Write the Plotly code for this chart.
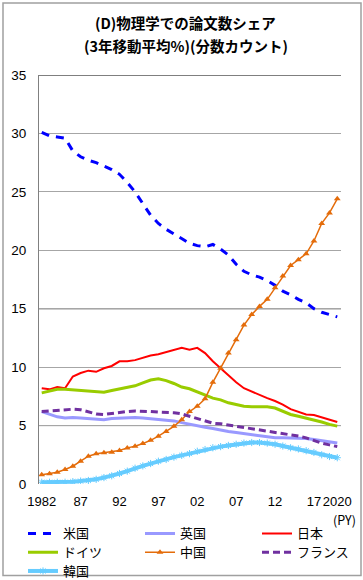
import plotly.graph_objects as go

years = list(range(1982, 2021))

us = [30.1, 29.8, 29.7, 29.6, 28.5, 28.0, 27.7, 27.5, 27.2, 26.9, 26.5, 25.8, 25.0, 24.0, 23.0,
      22.3, 21.8, 21.4, 21.0, 20.6, 20.4, 20.3, 20.5, 20.1, 19.6, 18.8, 18.2, 17.9, 17.7, 17.4,
      17.0, 16.5, 16.2, 15.8, 15.5, 15.0, 14.7, 14.5, 14.3]
uk = [6.2, 6.0, 5.75, 5.65, 5.7, 5.65, 5.6, 5.5, 5.5, 5.6, 5.65, 5.7, 5.7, 5.65, 5.6, 5.5, 5.45,
      5.4, 5.25, 5.1, 4.95, 4.85, 4.75, 4.6, 4.5, 4.4, 4.3, 4.25, 4.15, 4.05, 3.95, 3.95, 3.95,
      3.95, 3.9, 3.8, 3.7, 3.6, 3.5]
japan = [8.2, 8.1, 8.3, 8.2, 9.2, 9.5, 9.7, 9.6, 9.9, 10.1, 10.5, 10.5, 10.6, 10.8, 11.0, 11.1,
         11.3, 11.5, 11.65, 11.5, 11.65, 11.2, 10.5, 9.9, 9.3, 8.7, 8.2, 7.9, 7.6, 7.35, 7.1, 6.8,
         6.4, 6.15, 5.95, 5.9, 5.7, 5.5, 5.3]
germany = [7.8, 7.95, 8.1, 8.1, 8.05, 8.0, 7.95, 7.9, 7.85, 8.0, 8.15, 8.25, 8.4, 8.65, 8.9, 9.0,
           8.85, 8.6, 8.3, 8.15, 7.9, 7.6, 7.35, 7.2, 6.95, 6.8, 6.65, 6.6, 6.6, 6.6, 6.5, 6.2,
           5.95, 5.8, 5.65, 5.45, 5.3, 5.1, 4.95]
china = [0.8, 0.87, 1.0, 1.24, 1.52, 1.95, 2.38, 2.58, 2.67, 2.72, 2.86, 3.09, 3.23, 3.46, 3.74,
         4.09, 4.5, 4.94, 5.5, 6.2, 6.65, 7.3, 8.7, 9.9, 11.2, 12.35, 13.6, 14.5, 15.2, 15.8, 16.8,
         17.8, 18.7, 19.2, 19.7, 20.8, 22.3, 23.2, 24.4]
france = [6.2, 6.25, 6.3, 6.4, 6.4, 6.35, 6.2, 6.0, 5.95, 6.05, 6.1, 6.2, 6.25, 6.25, 6.2, 6.15,
          6.15, 6.1, 6.0, 5.8, 5.55, 5.35, 5.2, 5.15, 5.05, 4.95, 4.85, 4.75, 4.65, 4.55, 4.45,
          4.35, 4.25, 4.1, 3.95, 3.7, 3.5, 3.35, 3.2]
korea = [0.15, 0.15, 0.15, 0.15, 0.2, 0.25, 0.3, 0.4, 0.55, 0.7, 0.9, 1.1, 1.35, 1.55, 1.75, 1.95,
         2.1, 2.3, 2.45, 2.6, 2.8, 2.95, 3.1, 3.2, 3.3, 3.4, 3.5, 3.55, 3.55, 3.5, 3.4, 3.25, 3.1,
         3.0, 2.85, 2.7, 2.5, 2.35, 2.25]

names = ["米国", "英国", "日本", "ドイツ", "中国", "フランス", "韓国"]
tick_vals = [1982, 1987, 1992, 1997, 2002, 2007, 2012, 2017, 2020]
tick_text = ["1982", "87", "92", "97", "02", "07", "12", "17", "2020"]
y_ticks = [0, 5, 10, 15, 20, 25, 30, 35]

title_line1 = "(D)物理学での論文数シェア"
title_line2 = "(3年移動平均%)(分数カウント)"
FONT = "Noto Sans CJK JP"

# plot-area geometry in pixels (for placing text and legends)
L, T, PW, PH = 39.0, 75.0, 302.0, 409.5
B = T + PH


def px(xp):
    return (xp - L) / PW


def py(yp):
    return (B - yp) / PH


styles = [
    dict(mode="lines", line=dict(color="#0000FF", width=3, dash="8px,7px")),
    dict(mode="lines", line=dict(color="#9999FF", width=3)),
    dict(mode="lines", line=dict(color="#FF0000", width=2)),
    dict(mode="lines", line=dict(color="#99CC00", width=3)),
    dict(mode="lines+markers", line=dict(color="#E46C0A", width=1.5),
         marker=dict(symbol="triangle-up", size=6, color="#E46C0A")),
    dict(mode="lines", line=dict(color="#7030A0", width=3, dash="7px,4px")),
    dict(mode="lines+markers", line=dict(color="#66CCFF", width=4),
         marker=dict(symbol="asterisk-open", size=6, line=dict(color="#8FDBFF", width=1))),
]
series = [us, uk, japan, germany, china, france, korea]

# legend grid: 3 columns x 3 rows (pixel origin of each entry)
col_x = [23, 140, 257]
row_top = [519, 537.8, 556.6]

fig = go.Figure()
legends = {}
for i, (nm, vals, st) in enumerate(zip(names, series, styles)):
    key = "legend" if i == 0 else f"legend{i + 1}"
    fig.add_trace(go.Scatter(x=years, y=vals, name=nm, legend=key, **st))
    legends[key] = dict(orientation="v", xanchor="left", yanchor="top",
                        x=px(col_x[i % 3]), y=py(row_top[i // 3]),
                        font=dict(family=FONT, size=13), itemwidth=30,
                        bgcolor="rgba(0,0,0,0)", borderwidth=0)

shapes = []
for v in [35, 15, 5]:
    shapes.append(dict(type="line", xref="paper", yref="y", x0=0, x1=1, y0=v, y1=v,
                       line=dict(color="#000000", width=1), layer="below"))
shapes.append(dict(type="rect", xref="paper", yref="paper",
                   x0=px(3), x1=px(361), y0=py(576), y1=py(3),
                   line=dict(color="#A0A0A0", width=1.5), fillcolor="rgba(0,0,0,0)"))

fig.update_layout(
    width=363, height=580,
    margin=dict(l=L, r=363 - L - PW, t=T, b=580 - B, autoexpand=False),
    paper_bgcolor="white", plot_bgcolor="white",
    font=dict(family=FONT, color="#000000", size=13),
    xaxis=dict(range=[1981.65, 2020.48], tickmode="array", tickvals=tick_vals, ticktext=tick_text,
               showgrid=False, zeroline=False, showline=False, ticks="", tickangle=0,
               tickfont=dict(family="Liberation Sans", size=13), ticklabelstandoff=8),
    yaxis=dict(range=[0, 35], tickvals=y_ticks, showgrid=True, gridcolor="#A6A6A6", gridwidth=1,
               zeroline=False, showline=True, linecolor="#808080", linewidth=1, ticks="",
               tickfont=dict(family="Liberation Sans", size=13.5), ticklabelstandoff=9),
    shapes=shapes,
    showlegend=True,
    annotations=[
        dict(text=title_line1, xref="paper", yref="paper", x=px(185), y=py(22),
             xanchor="center", yanchor="middle", showarrow=False,
             font=dict(family=FONT, size=14.5, color="#000000", weight="bold")),
        dict(text=title_line2, xref="paper", yref="paper", x=px(186), y=py(45),
             xanchor="center", yanchor="middle", showarrow=False,
             font=dict(family=FONT, size=14.5, color="#000000", weight="bold")),
        dict(text="(PY)", xref="paper", yref="paper", x=px(358), y=py(520),
             xanchor="right", yanchor="middle", showarrow=False,
             font=dict(family=FONT, size=12.5)),
    ],
    **legends,
)

fig.write_html("out.html", config={"displayModeBar": False},
               post_script="document.body.style.margin='0';")
